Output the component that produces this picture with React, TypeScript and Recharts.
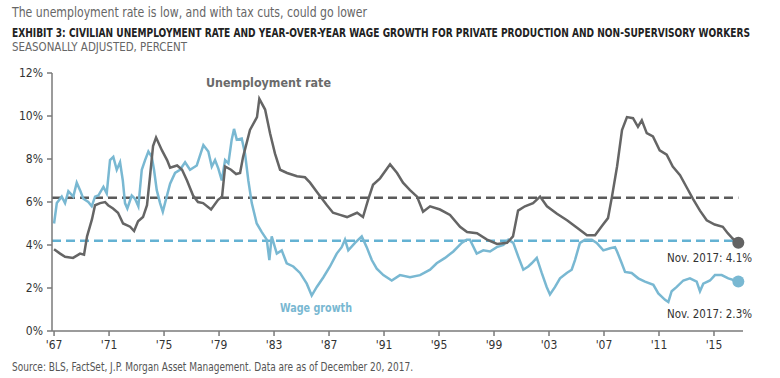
import React from "react";
import { LineChart, Line, XAxis, YAxis, ReferenceLine, ReferenceDot } from "recharts";

// Horizontal position in chart years (tick '67 = 1967), values in percent
const unempYears = [1967.0, 1967.44, 1967.8, 1968.38, 1968.89, 1969.18, 1969.4, 1969.76, 1969.98, 1970.35, 1970.71, 1970.93, 1971.29, 1971.65, 1972.02, 1972.53, 1972.82, 1973.11, 1973.47, 1973.76, 1973.98, 1974.2, 1974.42, 1974.85, 1975.22, 1975.44, 1975.95, 1976.31, 1976.67, 1977.11, 1977.47, 1977.84, 1978.42, 1978.93, 1979.22, 1979.44, 1979.87, 1980.24, 1980.53, 1980.75, 1981.25, 1981.76, 1981.93, 1982.35, 1982.71, 1983.07, 1983.44, 1983.95, 1984.67, 1985.25, 1985.62, 1986.2, 1986.85, 1987.29, 1987.8, 1988.31, 1989.04, 1989.47, 1989.84, 1990.2, 1990.71, 1991.44, 1991.95, 1992.38, 1992.89, 1993.4, 1993.84, 1994.35, 1995.07, 1995.8, 1996.53, 1997.04, 1997.76, 1998.49, 1999.22, 1999.95, 2000.38, 2000.75, 2001.25, 2001.84, 2002.35, 2002.85, 2003.58, 2004.31, 2005.04, 2005.76, 2006.35, 2006.93, 2007.29, 2007.58, 2007.95, 2008.31, 2008.67, 2009.11, 2009.47, 2009.75, 2010.11, 2010.56, 2011.05, 2011.56, 2012.0, 2012.53, 2013.04, 2013.47, 2013.98, 2014.47, 2015.05, 2015.64, 2016.0, 2016.36, 2016.77];
const unempValues = [3.8, 3.6, 3.45, 3.4, 3.6, 3.55, 4.4, 5.2, 5.85, 5.95, 6.0, 5.85, 5.7, 5.5, 5.0, 4.85, 4.65, 5.1, 5.3, 5.85, 7.2, 8.6, 9.0, 8.4, 7.95, 7.6, 7.7, 7.5, 7.0, 6.3, 6.0, 5.95, 5.65, 6.1, 6.25, 7.65, 7.5, 7.3, 7.35, 8.1, 9.35, 9.95, 10.8, 10.3, 9.2, 8.25, 7.5, 7.35, 7.2, 7.15, 6.9, 6.4, 5.85, 5.5, 5.4, 5.3, 5.5, 5.3, 6.1, 6.8, 7.1, 7.75, 7.35, 6.9, 6.55, 6.25, 5.55, 5.8, 5.65, 5.4, 4.85, 4.6, 4.55, 4.25, 4.05, 4.1, 4.4, 5.6, 5.8, 5.95, 6.25, 5.8, 5.45, 5.15, 4.8, 4.45, 4.45, 4.95, 5.25, 6.25, 7.65, 9.35, 9.95, 9.9, 9.5, 9.8, 9.2, 9.05, 8.4, 8.2, 7.65, 7.25, 6.65, 6.15, 5.6, 5.15, 4.95, 4.85, 4.55, 4.3, 4.1];

const wageYears = [1967.0, 1967.2, 1967.56, 1967.8, 1968.04, 1968.4, 1968.65, 1968.89, 1969.13, 1969.49, 1969.74, 1969.98, 1970.22, 1970.59, 1970.83, 1971.07, 1971.31, 1971.56, 1971.8, 1972.0, 1972.16, 1972.33, 1972.65, 1972.89, 1973.13, 1973.38, 1973.62, 1973.86, 1974.11, 1974.27, 1974.47, 1974.71, 1974.91, 1975.07, 1975.44, 1975.8, 1976.16, 1976.53, 1976.89, 1977.38, 1977.86, 1978.22, 1978.47, 1978.71, 1978.95, 1979.2, 1979.44, 1979.68, 1979.92, 1980.09, 1980.29, 1980.65, 1980.89, 1981.13, 1981.38, 1981.74, 1982.11, 1982.47, 1982.66, 1982.83, 1983.2, 1983.56, 1983.92, 1984.4, 1984.89, 1985.38, 1985.74, 1986.11, 1986.59, 1987.07, 1987.56, 1987.92, 1988.16, 1988.4, 1988.89, 1989.38, 1989.74, 1990.11, 1990.47, 1990.95, 1991.56, 1992.16, 1992.89, 1993.62, 1994.35, 1994.83, 1995.44, 1996.04, 1996.65, 1997.01, 1997.25, 1997.74, 1998.22, 1998.71, 1999.2, 1999.68, 2000.04, 2000.4, 2000.77, 2001.13, 2001.49, 2001.74, 2002.11, 2002.47, 2002.83, 2003.07, 2003.44, 2003.8, 2004.29, 2004.65, 2004.89, 2005.25, 2005.62, 2006.11, 2006.47, 2006.95, 2007.44, 2007.8, 2007.95, 2008.29, 2008.53, 2009.01, 2009.49, 2009.98, 2010.59, 2010.95, 2011.44, 2011.68, 2011.92, 2012.29, 2012.77, 2013.25, 2013.74, 2013.98, 2014.22, 2014.71, 2015.07, 2015.56, 2016.04, 2016.77];
const wageValues = [5.0, 5.95, 6.25, 5.95, 6.5, 6.25, 6.9, 6.55, 6.15, 6.0, 5.8, 6.25, 6.3, 6.7, 6.4, 7.95, 8.1, 7.5, 7.85, 7.0, 5.95, 5.7, 6.3, 6.15, 5.8, 7.5, 7.95, 8.35, 8.1, 7.5, 6.55, 5.95, 5.55, 5.95, 6.85, 7.35, 7.5, 7.85, 7.5, 7.7, 8.65, 8.35, 7.65, 7.95, 7.55, 7.0, 7.95, 7.8, 8.9, 9.4, 8.9, 8.95, 8.25, 7.0, 5.95, 5.0, 4.6, 4.25, 3.3, 4.4, 3.6, 3.75, 3.15, 3.0, 2.7, 2.2, 1.65, 2.05, 2.5, 3.0, 3.6, 3.9, 4.25, 3.75, 4.1, 4.4, 3.9, 3.3, 2.9, 2.6, 2.35, 2.6, 2.5, 2.6, 2.85, 3.15, 3.4, 3.7, 4.1, 4.25, 4.25, 3.6, 3.75, 3.7, 3.9, 4.0, 4.25, 4.1, 3.45, 2.85, 3.0, 3.15, 3.4, 2.7, 2.05, 1.7, 2.05, 2.45, 2.7, 2.85, 3.3, 4.1, 4.25, 4.25, 4.1, 3.75, 3.85, 3.9, 3.7, 3.15, 2.75, 2.7, 2.45, 2.3, 2.15, 1.75, 1.45, 1.35, 1.85, 2.05, 2.35, 2.45, 2.3, 1.85, 2.2, 2.35, 2.6, 2.6, 2.45, 2.3];

const xTicks = [1967, 1971, 1975, 1979, 1983, 1987, 1991, 1995, 1999, 2003, 2007, 2011, 2015];
const yTicks = [0, 2, 4, 6, 8, 10, 12];
const unempAverage = 6.2;
const wageAverage = 4.2;
const latestYear = 2016.77;
const latestUnemp = 4.1;
const latestWage = 2.3;
const xDomain = [1966.85, 2017.11];

const unempData = unempYears.map((t, i) => ({ t, v: unempValues[i] }));
const wageData = wageYears.map((t, i) => ({ t, v: wageValues[i] }));

const FONT = "'Liberation Sans Narrow', 'DejaVu Sans Condensed', 'Arial Narrow', sans-serif";
const GRAY = "#656565";
const BLUE = "#79b8d2";

export default function App() {
  return (
    <div style={{ position: "absolute", left: 0, top: 0, width: 780, height: 378, background: "#fff", fontFamily: FONT }}>
      <LineChart width={780} height={378} margin={{ top: 73, right: 37, bottom: 0, left: 8 }}>
        <XAxis
          dataKey="t"
          type="number"
          domain={xDomain}
          ticks={xTicks}
          allowDataOverflow
          tickFormatter={(v) => "'" + String(v).slice(2)}
          height={47}
          tickSize={5}
          tickMargin={4}
          stroke="#7a7a7a"
          strokeWidth={1.5}
          tick={{ fill: "#333", fontSize: 12, fontFamily: FONT }}
        />
        <YAxis
          type="number"
          domain={[0, 12]}
          ticks={yTicks}
          width={44}
          tickSize={5}
          tickMargin={4}
          tickFormatter={(v) => v + "%"}
          stroke="#7a7a7a"
          strokeWidth={1.5}
          tick={{ fill: "#333", fontSize: 12, fontFamily: FONT }}
        />
        <ReferenceLine
          segment={[{ x: xDomain[0], y: unempAverage }, { x: latestYear, y: unempAverage }]}
          stroke="#5a5a5a"
          strokeWidth={2.5}
          strokeDasharray="9 5"
        />
        <ReferenceLine
          segment={[{ x: xDomain[0], y: wageAverage }, { x: latestYear, y: wageAverage }]}
          stroke="#64b2d3"
          strokeWidth={2.5}
          strokeDasharray="9 5"
        />
        <Line data={wageData} dataKey="v" type="linear" stroke={BLUE} strokeWidth={2.5} dot={false} isAnimationActive={false} />
        <Line data={unempData} dataKey="v" type="linear" stroke={GRAY} strokeWidth={2.5} dot={false} isAnimationActive={false} />
        <ReferenceDot x={latestYear} y={latestUnemp} r={6} fill="#636363" stroke="none" />
        <ReferenceDot x={latestYear} y={latestWage} r={6} fill={BLUE} stroke="none" />
      </LineChart>
      <svg width={780} height={378} style={{ position: "absolute", left: 0, top: 0, pointerEvents: "none" }} fontFamily={FONT}>
        <text x={12} y={17} fontSize={13.5} fill="#666" textLength={355} lengthAdjust="spacingAndGlyphs">The unemployment rate is low, and with tax cuts, could go lower</text>
        <text x={12} y={37} fontSize={10.5} fontWeight="bold" fill="#222" textLength={738} lengthAdjust="spacingAndGlyphs" transform="translate(12 37) scale(1 1.14) translate(-12 -37)">EXHIBIT 3: CIVILIAN UNEMPLOYMENT RATE AND YEAR-OVER-YEAR WAGE GROWTH FOR PRIVATE PRODUCTION AND NON-SUPERVISORY WORKERS</text>
        <text x={12} y={51} fontSize={11.5} fill="#666" textLength={175} lengthAdjust="spacingAndGlyphs">SEASONALLY ADJUSTED, PERCENT</text>
        <text x={206} y={87} fontSize={12.5} fontWeight="bold" fill="#6a6a6a" textLength={125} lengthAdjust="spacingAndGlyphs">Unemployment rate</text>
        <text x={280} y={312} fontSize={12.5} fontWeight="bold" fill={BLUE} textLength={72} lengthAdjust="spacingAndGlyphs">Wage growth</text>
        <text x={667} y={262} fontSize={12.5} fill="#333" textLength={85} lengthAdjust="spacingAndGlyphs">Nov. 2017: 4.1%</text>
        <text x={667} y={318} fontSize={12.5} fill="#333" textLength={85} lengthAdjust="spacingAndGlyphs">Nov. 2017: 2.3%</text>
        <text x={12} y={371} fontSize={11.5} fill="#555" textLength={401} lengthAdjust="spacingAndGlyphs">Source: BLS, FactSet, J.P. Morgan Asset Management. Data are as of December 20, 2017.</text>
      </svg>
    </div>
  );
}
